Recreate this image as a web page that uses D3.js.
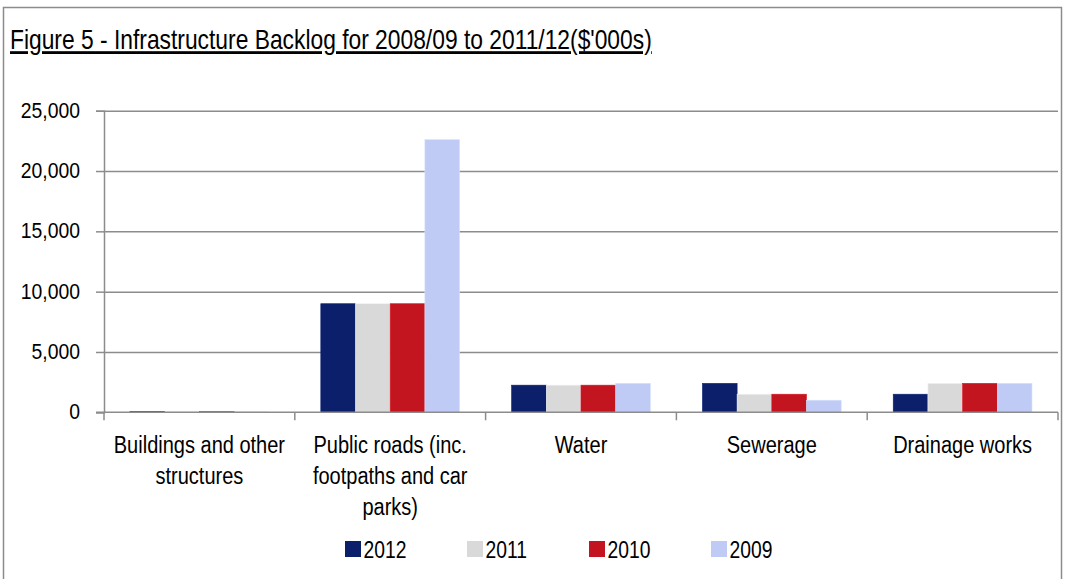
<!DOCTYPE html>
<html>
<head>
<meta charset="utf-8">
<script src="https://cdn.jsdelivr.net/npm/d3@7"></script>
<style>
  html, body { margin: 0; padding: 0; background: #fff; }
  svg { display: block; }
  text { font-family: "Liberation Sans", Arial, sans-serif; fill: #000; }
</style>
</head>
<body>
<svg id="chart" width="1066" height="579"></svg>
<script>
// Infrastructure backlog by asset class ($'000s)
const categories = [
  "Buildings and other structures",
  "Public roads (inc. footpaths and car parks)",
  "Water",
  "Sewerage",
  "Drainage works"
];
const seriesNames = ["2012", "2011", "2010", "2009"];
const values2012 = [60, 9000, 2250, 2400, 1500];
const values2011 = [40, 9000, 2250, 1500, 2400];
const values2010 = [60, 9000, 2250, 1500, 2400];
const values2009 = [30, 22600, 2400, 1000, 2400];
const yTicks = [0, 5000, 10000, 15000, 20000, 25000];
const colors = ["#0b1f6b", "#d9d9d9", "#c3151f", "#bfcaf5"];
const titleText = "Figure 5 - Infrastructure Backlog for 2008/09 to 2011/12($'000s)";

const seriesValues = [values2012, values2011, values2010, values2009];
const rows = categories.map((c, i) => ({
  category: c,
  values: seriesNames.map((s, j) => ({ series: s, value: seriesValues[j][i] }))
}));

const svg = d3.select("#chart");
const plot = { left: 104, right: 1058, top: 110.7, bottom: 412.3 };
const gridColor = "#8c8c8c";

// narrow-face look: a regular sans, condensed horizontally
const titleSize = 28;
const probe = svg.append("text").attr("font-size", titleSize).text(titleText);
const titleSqueeze = 642 / probe.node().getComputedTextLength();
probe.remove();
const tickSqueeze = 0.88, labelSqueeze = 0.87, legendSqueeze = 0.84;

function placeText(parent, x, y, str, size, squeeze, anchor) {
  return parent.append("text")
    .attr("transform", `translate(${x},${y}) scale(${squeeze},1)`)
    .attr("font-size", size)
    .attr("text-anchor", anchor || "start")
    .text(str);
}

// outer frame
svg.append("rect")
  .attr("x", 3.5).attr("y", 7.5)
  .attr("width", 1058).attr("height", 600)
  .attr("fill", "none").attr("stroke", gridColor).attr("stroke-width", 1.5);

// title, underlined
placeText(svg, 10, 49, titleText, titleSize, titleSqueeze).attr("text-decoration", "underline");

const x0 = d3.scaleBand().domain(categories).range([plot.left, plot.right]).padding(0);
const x1 = d3.scaleBand().domain(seriesNames).range([0, x0.bandwidth()])
  .paddingInner(0).paddingOuter(0.75);
const y = d3.scaleLinear().domain([0, 25000]).range([plot.bottom, plot.top]);
const color = d3.scaleOrdinal().domain(seriesNames).range(colors);

// horizontal gridlines + y axis
const yAxis = d3.axisLeft(y).tickValues(yTicks).tickFormat(d3.format(",")).tickSize(8).tickPadding(8);
const gy = svg.append("g").attr("transform", `translate(${plot.left},0)`).call(yAxis);
gy.select(".domain").attr("stroke", gridColor).attr("stroke-width", 1.5);
gy.selectAll(".tick line").attr("stroke", gridColor).attr("stroke-width", 1.5);
gy.selectAll(".tick text")
  .attr("font-size", 22).attr("font-family", null).attr("fill", "#000")
  .attr("x", 0).attr("dy", "0.3em")
  .attr("transform", `translate(-24,0) scale(${tickSqueeze},1)`);
gy.selectAll(".tick").filter(d => d !== 0).append("line")
  .attr("x1", 0).attr("x2", plot.right - plot.left)
  .attr("stroke", gridColor).attr("stroke-width", 1.5);

// bars
const groups = svg.append("g").selectAll("g").data(rows).join("g")
  .attr("transform", d => `translate(${x0(d.category)},0)`);
groups.selectAll("rect").data(d => d.values).join("rect")
  .attr("x", d => x1(d.series))
  .attr("y", d => y(d.value))
  .attr("width", x1.bandwidth())
  .attr("height", d => y(0) - y(d.value))
  .attr("fill", d => color(d.series))
  .attr("stroke", d => d3.color(color(d.series)).brighter(0.3))
  .attr("stroke-width", 0.6);

// x axis with category separators
const xAxis = d3.axisBottom(x0).tickSize(0).tickFormat("");
const gx = svg.append("g").attr("transform", `translate(0,${plot.bottom})`).call(xAxis);
gx.select(".domain").attr("stroke", gridColor).attr("stroke-width", 1.5)
  .attr("d", `M${plot.left - 8},0H${plot.right}`);
const seps = d3.range(categories.length + 1).map(i => plot.left + i * x0.step());
gx.selectAll(".sep").data(seps).join("line").attr("class", "sep")
  .attr("x1", d => d).attr("x2", d => d).attr("y1", 0).attr("y2", 8)
  .attr("stroke", gridColor).attr("stroke-width", 1.5);

// category labels, wrapped to the band width
const labelSize = 23;
function wrapLines(text, width) {
  const t = svg.append("text").attr("font-size", labelSize);
  const words = text.split(" ");
  const lines = [];
  let line = [];
  words.forEach(w => {
    t.text(line.concat(w).join(" "));
    if (t.node().getComputedTextLength() * labelSqueeze > width && line.length) {
      lines.push(line.join(" "));
      line = [w];
    } else {
      line.push(w);
    }
  });
  if (line.length) lines.push(line.join(" "));
  t.remove();
  return lines;
}
categories.forEach(c => {
  const cx = x0(c) + x0.bandwidth() / 2;
  wrapLines(c, 180).forEach((l, i) =>
    placeText(svg, cx, 453 + i * 31, l, labelSize, labelSqueeze, "middle"));
});

// legend
const legend = svg.append("g").selectAll("g").data(seriesNames).join("g")
  .attr("transform", (d, i) => `translate(${345 + i * 122},541)`);
legend.append("rect").attr("width", 16).attr("height", 16).attr("fill", d => color(d));
legend.each(function (d) { placeText(d3.select(this), 18.5, 16.7, d, 23, legendSqueeze); });
</script>
</body>
</html>
